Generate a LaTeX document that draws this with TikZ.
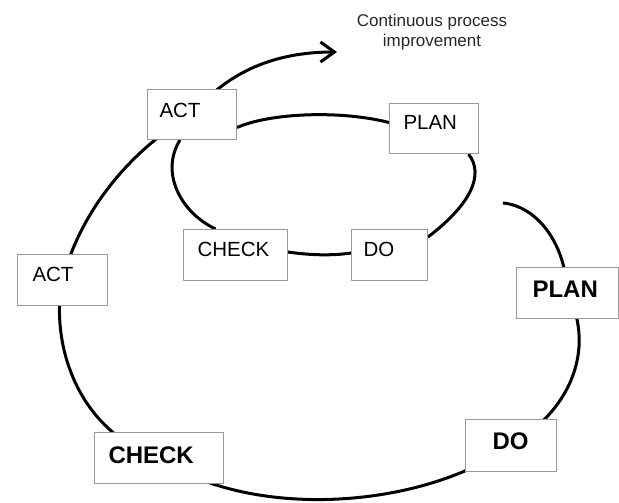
\documentclass[tikz,border=0pt]{standalone}
\usepackage{fontspec}
\setmainfont{Liberation Sans}
\usetikzlibrary{arrows.meta}
\pgfdeclarelayer{background}
\pgfsetlayers{background,main}
\tikzset{
  box/.style={draw=black!40, line width=1pt, fill=white, anchor=north west,
    inner ysep=0pt, align=left, font=\fontsize{20.5}{24}\selectfont},
  boldbox/.style={box, font=\fontsize{24}{28}\selectfont\bfseries},
  geom/.style n args={4}{text width=#1, inner xsep=#2, text height=#3, text depth=#4},
  curve/.style={line width=3pt, black, line join=round},
  caption/.style={align=center, inner sep=0pt, font=\fontsize{17}{20}\selectfont, text=black!85}
}
\begin{document}
\begin{tikzpicture}[x=1pt, y=-1pt]
\useasboundingbox (0,0) rectangle (619,503);
% inner cycle boxes
\node[box, geom={65pt}{12pt}{28pt}{22pt}] (tACT) at (147,89) {ACT};
\node[box, geom={61pt}{14pt}{26pt}{24pt}] (tPLAN) at (389,103) {PLAN};
\node[box, geom={76pt}{14pt}{27pt}{24pt}] (iCHECK) at (183,229) {CHECK};
\node[box, geom={52pt}{12pt}{27pt}{24pt}] (iDO) at (351,229) {DO};
% outer cycle boxes
\node[box, geom={60pt}{15pt}{27pt}{24pt}] (oACT) at (17,254) {ACT};
\node[boldbox, geom={70pt}{16pt}{30pt}{21pt}] (oPLAN) at (516,267) {PLAN};
\node[boldbox, geom={101pt}{14pt}{31pt}{20pt}] (oCHECK) at (94,432) {CHECK};
\node[boldbox, geom={37pt}{27pt}{30pt}{22pt}] (oDO) at (465,419) {DO};
% caption
\node[caption, anchor=north] (cap) at (432,14) {Continuous process\\improvement};
\coordinate (s0) at (503,203);
\coordinate (tip) at (337,52);
\begin{pgfonlayer}{background}
% outer spiral
\draw[curve, -{Straight Barb[length=14pt,width=20pt]}] (s0)
  .. controls (535,206) and (565,240) .. (oPLAN.center)
  .. controls (593,342) and (578,405) .. (oDO.center)
  .. controls (420,510) and (250,520) .. (oCHECK.center)
  .. controls (75,430) and (50,340) .. (oACT.center)
  .. controls (80,212) and (130,150) .. (tACT.center)
  .. controls (225,75) and (270,52) .. (tip);
% inner cycle
\draw[curve] ([yshift=-13pt]tACT.east) .. controls (270,113) and (340,110) .. ([yshift=6pt]tPLAN.west);
\draw[curve] ([xshift=34.5pt]tPLAN.south) .. controls (485,175) and (470,205) .. ([yshift=18pt]iDO.east);
\draw[curve] ([yshift=2pt]iDO.west) .. controls +(-20,3) and +(20,3) .. ([yshift=3pt]iCHECK.east);
\draw[curve] ([xshift=-20pt]iCHECK.north) .. controls (180,212) and (160,172) .. ([xshift=-12pt]tACT.south);
\end{pgfonlayer}
\end{tikzpicture}
\end{document}
